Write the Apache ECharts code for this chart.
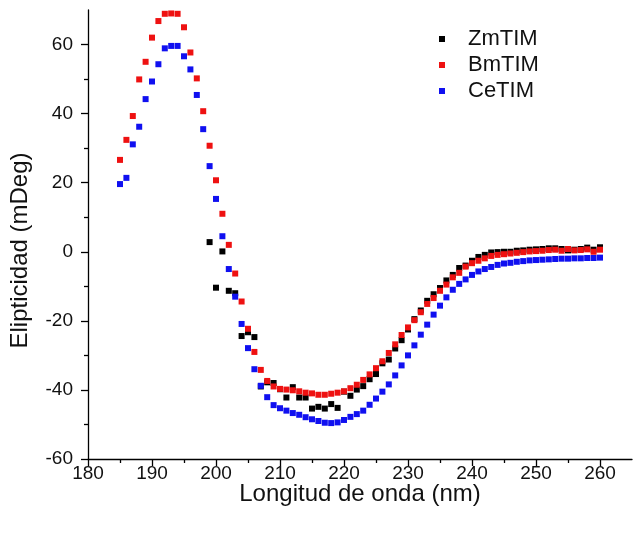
<!DOCTYPE html>
<html>
<head>
<meta charset="utf-8">
<script src="https://cdn.jsdelivr.net/npm/echarts@6/dist/echarts.min.js"></script>
<style>html,body{margin:0;padding:0;background:#fff;}#c{width:633px;height:535px;}</style>
</head>
<body>
<div id="c"></div>
<script>
const seriesNames = ['ZmTIM', 'BmTIM', 'CeTIM'];
const xTicks = [180, 190, 200, 210, 220, 230, 240, 250, 260];
const xMinorTicks = [185, 195, 205, 215, 225, 235, 245, 255];
const yTicks = [-60, -40, -20, 0, 20, 40, 60];
const yMinorTicks = [-50, -30, -10, 10, 30, 50];

const zmStart = 199;
const zmValues = [2.8, -10.4, 0.1, -11.3, -12.0, -24.4, -23.3, -24.7, -39.0, -37.8,
  -38.0, -39.8, -42.2, -39.2, -42.2, -42.2, -45.4, -44.9, -45.4, -44.1,
  -45.2, -40.5, -41.7, -39.9, -38.9, -36.9, -35.4, -32.3, -31.2, -28.0,
  -25.6, -22.5, -19.5, -17.0, -14.2, -12.3, -10.5, -8.3, -6.7, -4.7,
  -4.0, -2.6, -1.5, -0.9, -0.2, -0.1, 0.0, 0.0, 0.3, 0.4,
  0.6, 0.7, 0.8, 1.0, 1.0, 0.8, 0.4, 0.6, 0.8, 1.2,
  0.6, 1.3];

const bmStart = 185;
const bmValues = [26.6, 32.4, 39.3, 49.9, 55.0, 62.0, 66.8, 68.9, 69.0, 68.9,
  65.0, 57.7, 50.2, 40.7, 30.7, 20.7, 11.0, 2.0, -6.3, -14.4,
  -22.3, -29.0, -34.2, -37.4, -39.0, -39.7, -39.9, -40.1, -40.4, -40.8,
  -41.0, -41.4, -41.4, -41.1, -40.8, -40.4, -39.5, -38.5, -37.1, -35.5,
  -33.7, -31.7, -29.3, -26.8, -24.1, -21.9, -19.8, -17.5, -15.1, -13.4,
  -11.3, -9.5, -7.4, -6.1, -4.3, -3.3, -2.6, -1.9, -1.2, -0.9,
  -0.7, -0.5, -0.3, -0.1, 0.1, 0.2, 0.3, 0.5, 0.6, 0.3,
  0.8, 0.4, 0.5, 0.7, 0.0, 0.6];

const ceStart = 185;
const ceValues = [19.6, 21.4, 31.1, 36.2, 44.2, 49.3, 54.3, 58.9, 59.6, 59.6,
  56.6, 52.8, 45.4, 35.5, 24.8, 15.3, 4.5, -5.0, -13.0, -20.9,
  -27.9, -34.0, -38.8, -42.1, -44.4, -45.3, -46.0, -46.7, -47.2, -47.9,
  -48.5, -49.0, -49.5, -49.6, -49.4, -48.7, -47.8, -47.0, -46.0, -44.3,
  -42.5, -40.5, -38.4, -35.8, -32.9, -30.0, -27.1, -24.0, -21.1, -18.2,
  -15.6, -13.2, -11.0, -9.3, -8.0, -6.7, -5.7, -5.0, -4.4, -3.8,
  -3.4, -3.2, -2.9, -2.7, -2.5, -2.4, -2.3, -2.2, -2.1, -2.0,
  -2.0, -1.9, -1.9, -1.8, -1.8, -1.7];

const colors = ['#000000', '#ee1111', '#1010f0'];

function pairs(start, vals) { return vals.map((v, i) => [start + i, v]); }

const FONT = 'Liberation Sans, Arial, sans-serif';
const chart = echarts.init(document.getElementById('c'), null, {renderer: 'canvas'});

const xBase = {type: 'value', min: 180, max: 265, interval: 10, gridIndex: 0, position: 'bottom', splitLine: {show: false}};
const yBase = {type: 'value', min: -60, max: 70, interval: 20, gridIndex: 0, position: 'left', splitLine: {show: false}};

chart.setOption({
  animation: false,
  backgroundColor: '#fff',
  grid: {left: 88, right: 1, top: 10, bottom: 76, containLabel: false},
  legend: {
    orient: 'vertical', left: 434, top: 23,
    itemWidth: 6, itemHeight: 6, itemGap: 4,
    icon: 'rect',
    data: seriesNames,
    textStyle: {fontFamily: FONT, fontSize: 22, lineHeight: 22, color: '#111', padding: [0, 0, 0, 18]}
  },
  xAxis: [
    Object.assign({}, xBase, {
      name: 'Longitud de onda (nm)', nameLocation: 'middle', nameGap: 23, nameMoveOverlap: false,
      nameTextStyle: {fontFamily: FONT, fontSize: 24, color: '#111'},
      axisLine: {show: true, onZero: false, lineStyle: {color: '#000', width: 1.3}},
      axisTick: {show: true, inside: false, length: 7, customValues: xTicks, lineStyle: {color: '#000', width: 1.3}},
      axisLabel: {show: true, customValues: xTicks, margin: 5, fontFamily: FONT, fontSize: 19, color: '#111'}
    }),
    Object.assign({}, xBase, {
      axisLine: {show: false, onZero: false},
      axisTick: {show: true, inside: false, length: 4, customValues: xMinorTicks, lineStyle: {color: '#000', width: 1.3}},
      axisLabel: {show: false}
    })
  ],
  yAxis: [
    Object.assign({}, yBase, {
      name: 'Elipticidad (mDeg)', nameLocation: 'middle', nameGap: 56, nameMoveOverlap: false,
      nameTextStyle: {fontFamily: FONT, fontSize: 24, color: '#111', padding: [0, 32, 0, 0]},
      axisLine: {show: true, onZero: false, lineStyle: {color: '#000', width: 1.3}},
      axisTick: {show: true, inside: false, length: 7, customValues: yTicks, lineStyle: {color: '#000', width: 1.3}},
      axisLabel: {show: true, customValues: yTicks, margin: 15, fontFamily: FONT, fontSize: 19, color: '#111'}
    }),
    Object.assign({}, yBase, {
      axisLine: {show: false, onZero: false},
      axisTick: {show: true, inside: false, length: 4, customValues: yMinorTicks, lineStyle: {color: '#000', width: 1.3}},
      axisLabel: {show: false}
    })
  ],
  series: [
    {name: seriesNames[0], type: 'scatter', symbol: 'rect', symbolSize: 6, itemStyle: {color: colors[0], opacity: 1}, data: pairs(zmStart, zmValues)},
    {name: seriesNames[1], type: 'scatter', symbol: 'rect', symbolSize: 6, itemStyle: {color: colors[1], opacity: 1}, data: pairs(bmStart, bmValues)},
    {name: seriesNames[2], type: 'scatter', symbol: 'rect', symbolSize: 6, itemStyle: {color: colors[2], opacity: 1}, data: pairs(ceStart, ceValues)}
  ]
});
</script>
</body>
</html>
